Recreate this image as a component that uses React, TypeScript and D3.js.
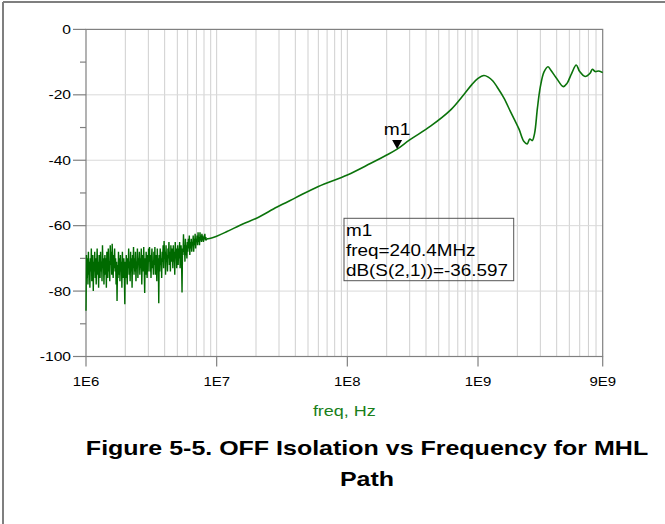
import React from "react";
import * as d3 from "d3";

// ---- data ----
const yTicks = [0, -20, -40, -60, -80, -100];
const yMinorTicks = [-10, -30, -50, -70, -90];
const xTickValues = [1e6, 1e7, 1e8, 1e9, 9e9];
const xTickLabels = ["1E6", "1E7", "1E8", "1E9", "9E9"];

// noisy low-frequency region, dB(S(2,1)) sampled on the sweep 1 MHz .. 8.4 MHz
const noiseStart = 1e6;
const noiseStop = 8.4e6;
const noiseDb = [
  -86, -69, -76, -70, -78, -68, -75, -71, -79, -70,
  -74, -67, -77, -72, -69, -80, -71, -74, -68, -76,
  -70, -78, -72, -67, -75, -71, -79, -69, -73, -76,
  -68, -74, -71, -77, -66, -73, -70, -78, -72, -69,
  -75, -70, -79, -68, -73, -76, -67, -74, -71, -77,
  -66, -72, -68, -75, -65.5, -71, -76, -69, -73, -67,
  -74, -70, -78, -71, -83, -72, -76, -68, -75, -70,
  -77, -69, -74, -71, -79, -68, -73, -76, -70, -75,
  -84, -71, -76, -69, -74, -78, -70, -73, -67, -75,
  -71, -77, -68, -74, -70, -79, -69, -73, -66.5, -75,
  -70, -74, -68, -77, -71, -73, -67, -76, -70, -72,
  -68, -75, -70, -73, -67, -78, -71, -69, -74, -66.5,
  -73, -80.6, -70, -75, -68, -72, -76, -69, -74, -67,
  -71, -66.5, -74, -69, -76, -70, -67, -73, -71, -75,
  -68, -72, -66.5, -75, -69, -71, -77, -67, -73, -70,
  -83.7, -69, -74, -67, -72, -70, -76, -68, -71, -66,
  -73, -64.7, -70, -68, -75, -66, -71, -69, -74, -67,
  -70, -65, -72, -68, -74, -66, -71, -69, -67, -73,
  -66, -71, -68, -75, -65, -70, -67, -73, -69, -66,
  -72, -67, -70, -65, -73, -68, -66, -71, -80.4, -67,
  -69, -62.6, -68, -66, -71, -64, -69, -66, -70, -65,
  -68, -64, -67, -63, -69, -65, -67, -64, -68, -65,
  -66, -63, -68, -64, -66, -62.5, -67, -64, -65, -63,
  -66, -62, -65, -63.5, -66, -62, -64.5, -63, -65, -62.5,
  -64.5, -63, -65, -63.5, -64, -62.5, -64.5, -63.5, -64.5, -64,
];

// smooth region
const smoothFreq = [
  8.6e6, 1.0e7, 1.2e7, 1.6e7, 2.0e7, 2.9e7, 4.0e7, 6.0e7, 1.0e8, 1.5e8, 2.0e8,
  2.404e8, 3.0e8, 4.33e8, 6.15e8, 7.8e8, 9.0e8, 1.0e9, 1.109e9, 1.2e9, 1.3e9,
  1.4e9, 1.58e9, 1.78e9, 2.06e9, 2.24e9, 2.38e9, 2.49e9, 2.6e9, 2.71e9, 2.85e9,
  3.0e9, 3.2e9, 3.43e9, 3.6e9, 4.0e9, 4.5e9, 4.8e9, 5.2e9, 5.65e9, 6.0e9, 6.6e9,
  7.2e9, 7.5e9, 7.9e9, 8.4e9, 9.0e9,
];
const smoothDb = [
  -64.0, -63.2, -61.8, -59.4, -57.8, -54.3, -51.5, -48.0, -44.5, -41.0, -38.4,
  -36.6, -33.8, -29.6, -24.7, -19.9, -16.8, -15.0, -14.1, -14.6, -15.8,
  -17.6, -21.0, -25.3, -30.5, -34.2, -35.0, -33.5, -34.0, -31.8, -24.0,
  -17.5, -13.0, -11.4, -12.4, -15.0, -17.5, -16.5, -13.5, -10.9, -12.9, -14.4,
  -13.4, -12.2, -12.9, -12.7, -13.2,
];

const markerFreq = 2.404e8;
const markerDb = -36.597;
const markerLines = ["m1", "freq=240.4MHz", "dB(S(2,1))=-36.597"];
const xAxisTitle = "freq, Hz";
const titleLines = ["Figure 5-5. OFF Isolation vs Frequency for MHL", "Path"];

const W = 665;
const H = 524;
const PL = 86, PR = 602.7, PT = 29.4, PB = 356.5;
const SX = 1.2; // horizontal glyph stretch of the reference
const FONT = "'Liberation Sans', Arial, sans-serif";

function SText({ x, y, size, anchor = "start", sx = SX, weight = "normal", fill = "#000", children }: any) {
  return (
    <text
      transform={`translate(${x},${y}) scale(${sx},1)`}
      fontSize={size}
      fontFamily={FONT}
      fontWeight={weight}
      textAnchor={anchor}
      fill={fill}
    >
      {children}
    </text>
  );
}

export default function App() {
  const x = d3.scaleLog().domain([1e6, 9e9]).range([PL, PR]);
  const y = d3.scaleLinear().domain([-100, 0]).range([PB, PT]);

  const n = noiseDb.length;
  const noisePts: [number, number][] = noiseDb.map((v, i) => [
    noiseStart * Math.pow(noiseStop / noiseStart, i / (n - 1)),
    v,
  ]);
  const smoothPts: [number, number][] = smoothFreq.map((f, i) => [f, smoothDb[i]]);

  const lineLin = d3.line<[number, number]>().x((d) => x(d[0])).y((d) => y(d[1]));
  const lineSmooth = d3
    .line<[number, number]>()
    .x((d) => x(d[0]))
    .y((d) => y(d[1]))
    .curve(d3.curveCatmullRom.alpha(0.5));

  const gridX: number[] = [];
  for (let d = 6; d <= 9; d++) {
    for (let k = 1; k <= 9; k++) {
      const v = k * Math.pow(10, d);
      if (v > 1e6 && v < 9e9) gridX.push(v);
    }
  }

  const mx = x(markerFreq);
  const my = y(markerDb);

  return (
    <svg width={W} height={H} style={{ display: "block", position: "absolute", left: 0, top: 0 }}>
      <rect x={0} y={0} width={W} height={H} fill="#fff" />
      {/* outer frame */}
      <line x1={3} y1={2} x2={W} y2={2} stroke="#7f7f7f" strokeWidth={2} />
      <line x1={3} y1={2} x2={3} y2={H} stroke="#7f7f7f" strokeWidth={2} />

      {/* grid */}
      {gridX.map((v) => (
        <line key={"gx" + v} x1={x(v)} x2={x(v)} y1={PT} y2={PB} stroke="#cfcfcf" strokeWidth={1} />
      ))}
      {[-20, -40, -60, -80].map((v) => (
        <line key={"gy" + v} x1={PL} x2={PR} y1={y(v)} y2={y(v)} stroke="#d9d9d9" strokeWidth={1} />
      ))}

      {/* plot box */}
      <rect x={PL} y={PT} width={PR - PL} height={PB - PT} fill="none" stroke="#808080" strokeWidth={1.2} />

      {/* y ticks */}
      {yTicks.map((v) => (
        <g key={"yt" + v}>
          <line x1={PL - 13} x2={PL} y1={y(v)} y2={y(v)} stroke="#808080" strokeWidth={1.2} />
          <SText x={PL - 15} y={y(v) + 4.5} size={13} anchor="end">
            {String(v)}
          </SText>
        </g>
      ))}
      {yMinorTicks.map((v) => (
        <line key={"ym" + v} x1={PL - 6} x2={PL} y1={y(v)} y2={y(v)} stroke="#808080" strokeWidth={1.2} />
      ))}

      {/* x ticks */}
      {xTickValues.map((v, i) => (
        <g key={"xt" + v}>
          <line x1={x(v)} x2={x(v)} y1={PB} y2={PB + 10} stroke="#808080" strokeWidth={1.2} />
          <SText x={x(v)} y={PB + 29} size={13} anchor="middle" sx={1.15}>
            {xTickLabels[i]}
          </SText>
        </g>
      ))}

      {/* curve */}
      <path d={lineLin(noisePts) || ""} fill="none" stroke="#006a00" strokeWidth={1.4} />
      <path
        d={lineSmooth([noisePts[n - 1], ...smoothPts]) || ""}
        fill="none"
        stroke="#0b730b"
        strokeWidth={1.6}
      />

      {/* marker */}
      <path d={`M${mx - 5},${my - 9}L${mx + 5},${my - 9}L${mx},${my}Z`} fill="#000" />
      <SText x={mx} y={my - 14} size={16} anchor="middle">
        {markerLines[0]}
      </SText>
      <rect x={344} y={218.3} width={169.7} height={62.4} fill="none" stroke="#555" strokeWidth={1} />
      {markerLines.map((t, i) => (
        <SText key={"ml" + i} x={346} y={236 + i * 19.8} size={16} sx={1.18}>
          {t}
        </SText>
      ))}

      {/* axis title */}
      <SText x={(PL + PR) / 2} y={416} size={15} anchor="middle" fill="#1a7f1a">
        {xAxisTitle}
      </SText>

      {/* figure title */}
      {titleLines.map((t, i) => (
        <SText key={"tl" + i} x={367} y={455 + i * 31} size={21} anchor="middle" weight="bold" sx={1.19}>
          {t}
        </SText>
      ))}
    </svg>
  );
}
